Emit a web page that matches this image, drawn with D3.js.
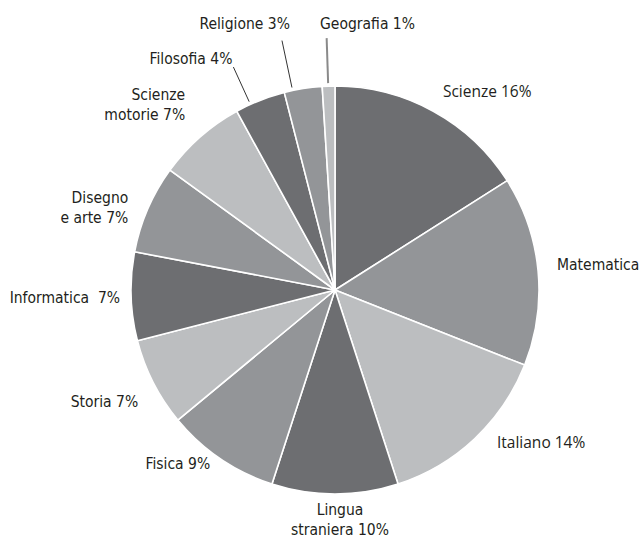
<!DOCTYPE html>
<html>
<head>
<meta charset="utf-8">
<script src="https://cdn.jsdelivr.net/npm/d3@7"></script>
<style>
  html, body { margin: 0; padding: 0; background: #fff; overflow: hidden; }
  svg { display: block; }
</style>
</head>
<body>
<svg id="chart" width="642" height="538"></svg>
<script>
// ---- data ----
const categories = ["Scienze", "Matematica", "Italiano", "Lingua straniera", "Fisica", "Storia",
  "Informatica", "Disegno e arte", "Scienze motorie", "Filosofia", "Religione", "Geografia"];
const values = [16, 15, 14, 10, 9, 7, 7, 7, 7, 4, 3, 1];
const labelLines = [
  ["Scienze 16%"], ["Matematica"], ["Italiano 14%"], ["Lingua", "straniera 10%"],
  ["Fisica 9%"], ["Storia 7%"], ["Informatica  7%"], ["Disegno", "e arte 7%"],
  ["Scienze", "motorie 7%"], ["Filosofia 4%"], ["Religione 3%"], ["Geografia 1%"]
];

// ---- layout / style ----
const W = 642, H = 538;
const cx = 335, cy = 290, R = 204;
const shades = ["#6d6e71", "#939598", "#bcbec0"];
const fontA = "'DejaVu Sans Condensed', 'DejaVu Sans', sans-serif";
const fontB = "'Open Sans', 'Noto Sans', sans-serif";
// per-label placement tweaks
const labelLayout = [
  { anchor: "start",  dx: 1,  dy: 2,   font: fontB },
  { anchor: "start",  dx: 1,  dy: 1,   font: fontA },
  { anchor: "start",  dx: 10, dy: -4,  font: fontB },
  { anchor: "middle", dx: 5,  dy: 3,   font: fontA },
  { anchor: "end",    dx: 0,  dy: -5,  font: fontA },
  { anchor: "end",    dx: 1,  dy: 16,  font: fontA },
  { anchor: "end",    dx: 7,  dy: 6,   font: fontA },
  { anchor: "end",    dx: -3, dy: 1,   font: fontA },
  { anchor: "end",    dx: -3, dy: -23.5, font: fontA },
  { anchor: "end",    leader: { dA: -2.9, r1: 207, r2: 245, color: "#333", w: 1 }, ldx: -1, ldy: -3, font: fontA },
  { anchor: "end",    leader: { dA: -3.0, r1: 207, r2: 255, color: "#333", w: 1 }, ldx: 8, ldy: -11.6, font: fontA },
  { anchor: "start",  leader: { dA: -0.1, r1: 207, r2: 252, color: "#8a8a8a", w: 2 }, ldx: -6.6, ldy: -9, font: fontA }
];
const labelR = 222, lineGap = 20;

const svg = d3.select("#chart");
svg.append("rect").attr("width", W).attr("height", H).attr("fill", "#fff");
const g = svg.append("g").attr("transform", `translate(${cx},${cy})`);

const pie = d3.pie().sort(null).value(d => d)(values);
const arc = d3.arc().innerRadius(0).outerRadius(R);

g.selectAll("path.slice")
  .data(pie)
  .join("path")
  .attr("class", "slice")
  .attr("d", arc)
  .attr("fill", (d, i) => shades[i % 3])
  .attr("stroke", "#fff")
  .attr("stroke-width", 1.6)
  .attr("stroke-linejoin", "round");

function polar(angleRad, r) {
  return [r * Math.sin(angleRad), -r * Math.cos(angleRad)];
}

pie.forEach((d, i) => {
  const L = labelLayout[i];
  const mid = (d.startAngle + d.endAngle) / 2;
  let x, y;
  if (L.leader) {
    const a = mid + L.leader.dA * Math.PI / 180;
    const p1 = polar(a, L.leader.r1), p2 = polar(a, L.leader.r2);
    g.append("line")
      .attr("x1", p1[0]).attr("y1", p1[1])
      .attr("x2", p2[0]).attr("y2", p2[1])
      .attr("stroke", L.leader.color)
      .attr("stroke-width", L.leader.w);
    x = p2[0] + L.ldx; y = p2[1] + L.ldy;
  } else {
    const p = polar(mid, labelR);
    x = p[0] + L.dx; y = p[1] + L.dy;
  }
  const t = g.append("text")
    .attr("x", x).attr("y", y)
    .attr("text-anchor", L.anchor)
    .attr("font-family", L.font)
    .attr("font-size", 15.5)
    .attr("fill", "#231f20")
    .style("white-space", "pre");
  labelLines[i].forEach((line, k) => {
    t.append("tspan")
      .attr("x", x)
      .attr("dy", k === 0 ? 0 : lineGap)
      .text(line);
  });
});
</script>
</body>
</html>
